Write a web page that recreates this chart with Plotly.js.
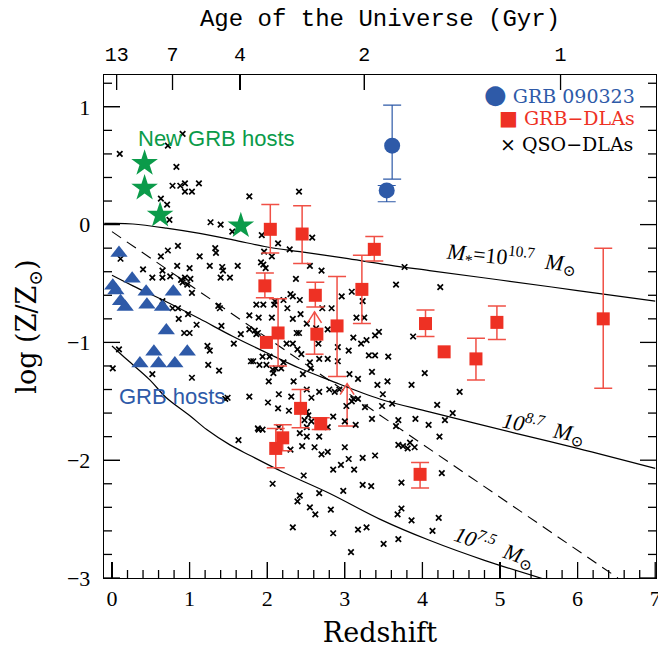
<!DOCTYPE html>
<html><head><meta charset="utf-8">
<script src="https://cdn.plot.ly/plotly-3.0.1.min.js"></script>
<style>html,body{margin:0;padding:0;background:#fff}#plot{width:658px;height:649px}</style>
</head><body><div id="plot"></div>
<script>
// ---------- data ----------
// QSO-DLAs
const qsoZ = [0.10,0.91,0.72,0.83,0.78,0.88,0.94,0.94,1.03,1.12,0.63,0.71,0.74,1.27,1.40,1.55,1.77,2.41,2.14,1.96,2.06,2.29,0.11,
0.63,0.72,0.85,1.13,1.33,1.34,0.40,0.52,0.65,0.65,0.75,0.84,0.89,0.91,0.94,0.97,1.01,1.00,1.03,1.26,1.42,1.43,1.40,1.52,1.62,
0.65,0.78,0.85,0.98,0.86,1.09,0.93,1.00,1.37,1.39,1.41,1.57,1.77,1.89,1.95,1.86,2.06,2.09,2.10,2.26,2.33,2.30,2.37,1.92,1.95,1.98,
2.33,1.66,1.77,1.84,1.86,1.88,1.94,2.03,2.25,2.33,2.38,2.39,1.79,1.82,1.90,1.99,2.07,2.08,2.11,2.18,2.02,2.34,0.09,0.01,0.52,1.03,
1.24,1.23,1.26,1.38,1.46,1.49,1.77,2.01,2.15,2.28,2.14,1.89,1.93,2.58,2.55,2.70,2.42,2.96,2.83,2.71,2.43,2.51,2.78,2.41,2.44,2.55,
2.56,2.67,2.78,2.91,2.66,2.63,2.91,3.05,3.11,3.23,3.15,3.25,3.09,3.21,3.28,3.31,3.39,3.39,3.44,3.56,3.35,3.17,3.06,3.66,3.77,3.88,
4.03,2.21,2.21,2.46,2.51,2.67,2.80,2.87,2.93,3.86,3.55,3.42,3.49,3.61,3.48,3.26,3.11,3.17,3.09,3.02,3.35,3.14,3.00,2.85,2.78,3.69,
3.66,3.91,4.08,3.84,3.69,3.75,3.81,3.90,2.31,2.51,2.53,2.57,2.48,2.51,2.51,2.42,2.57,2.67,1.88,1.94,2.15,1.63,2.30,2.45,2.61,2.70,
2.78,3.00,2.95,3.05,3.12,3.23,3.39,2.85,3.23,3.34,2.98,2.67,2.47,2.07,2.42,2.39,2.55,2.62,2.82,2.33,2.85,3.17,3.28,3.08,3.50,3.69,
3.73,3.68,3.86,3.73,4.23,4.48,4.19,4.39,4.29,4.22,4.25,4.21,4.13];
const qsoLogZ = [0.60,0.77,0.67,0.49,0.33,0.33,0.35,0.28,0.28,0.35,0.22,0.17,0.04,0.02,0.00,-0.06,0.24,0.28,-0.16,-0.23,-0.27,-0.21,-0.29,
-0.27,-0.22,-0.18,-0.27,-0.20,-0.24,-0.38,-0.45,-0.39,-0.45,-0.44,-0.35,-0.47,-0.49,-0.45,-0.51,-0.46,-0.37,-0.58,-0.35,-0.36,-0.39,-0.45,-0.45,-0.35,
-0.65,-0.71,-0.71,-0.76,-0.80,-0.85,-0.92,-0.92,-0.69,-0.71,-0.86,-1.01,-0.77,-0.79,-0.68,-0.68,-0.79,-0.68,-0.65,-0.71,-0.61,-0.59,-0.46,-0.32,-0.34,-0.37,
-0.80,-0.93,-0.89,-0.90,-0.93,-0.92,-1.12,-1.12,-1.01,-1.01,-0.92,-1.06,-1.16,-1.16,-1.19,-1.19,-1.23,-1.26,-1.22,-1.22,-1.33,-1.33,-1.06,-1.22,-1.27,-1.30,
-1.19,-1.03,-1.07,-1.24,-1.48,-1.47,-1.46,-1.51,-1.44,-1.58,-1.56,-1.74,-0.09,-0.11,-0.35,-0.39,-0.64,-0.61,-0.71,-0.71,-0.76,-0.84,-0.89,-0.92,-1.10,-1.17,
-1.22,-1.14,-1.14,-1.16,-1.01,-0.88,-1.04,-1.07,-0.96,-0.65,-0.79,-0.79,-0.57,-1.01,-0.98,-1.11,-1.11,-0.94,-0.91,-1.12,-1.25,-1.31,-1.27,-0.51,-0.36,-0.95,
-1.26,-0.64,-1.17,-1.27,-1.40,-1.42,-1.40,-1.42,-1.40,-1.36,-1.33,-1.36,-1.44,-1.52,-1.54,-1.55,-1.48,-1.48,-1.50,-1.54,-1.65,-1.70,-1.67,-1.63,-1.72,-1.66,
-1.71,-1.65,-1.70,-1.85,-1.87,-1.88,-1.90,-1.89,-1.46,-1.59,-1.62,-1.67,-1.66,-1.72,-1.80,-1.77,-1.47,-1.80,-1.73,-1.74,-1.72,-1.83,-1.91,-1.88,-1.89,-1.95,
-1.93,-1.89,-2.04,-1.99,-2.08,-1.98,-1.96,-2.08,-2.21,-2.22,-2.26,-2.28,-2.13,-2.20,-2.30,-2.35,-2.40,-2.46,-2.42,-2.57,-2.62,-2.59,-2.57,-2.78,-2.71,-2.67,
-2.41,-2.46,-2.51,-2.19,-0.53,-1.42,-1.53,-1.60,-1.66,-1.80,-2.11,-2.49,-2.60];

// GRB-DLAs (NaN = no error bar)
const dlaZ     = [2.04,2.45,3.38,1.97,2.62,2.14,1.99,2.90,3.22,4.04,4.28,4.69,4.96,6.33,2.43,2.69,2.20,2.11,3.97,2.64];
const dlaLogZ  = [-0.04,-0.08,-0.21,-0.52,-0.60,-0.92,-1.00,-0.86,-0.55,-0.84,-1.08,-1.14,-0.83,-0.80,-1.56,-1.69,-1.81,-1.90,-2.12,-0.93];
const dlaErrUp = [0.21,0.24,0.11,0.11,0.11,0.29,NaN,0.42,0.29,0.115,NaN,0.175,0.14,0.60,0.16,0.05,0.11,0.17,0.10,NaN];
const dlaErrDn = [0.20,0.25,0.10,0.10,0.10,0.28,NaN,0.43,0.29,0.11,NaN,0.18,0.145,0.59,0.165,0.05,0.11,0.165,0.115,NaN];
// GRB-DLA lower limits (arrows): from value up to arrow tip
const limZ    = [2.61,3.03];
const limLow  = [-1.10,-1.71];
const limHigh = [-0.74,-1.35];

// GRB 090323
const g090Z = [3.61,3.54];
const g090LogZ = [0.67,0.29];
const g090ErrUp = [0.345,0.042];
const g090ErrDn = [0.284,0.096];

// GRB hosts (triangles)
const hostZ = [0.09,0.26,0.01,0.05,0.44,0.79,0.11,0.17,0.45,0.65,0.70,0.54,0.97,0.36,0.60,0.81];
const hostLogZ = [-0.24,-0.46,-0.52,-0.56,-0.57,-0.57,-0.65,-0.70,-0.68,-0.70,-0.90,-1.08,-1.08,-1.18,-1.18,-1.18];

// New GRB hosts (stars)
const newHostZ = [0.42,0.42,0.62,1.66];
const newHostLogZ = [0.52,0.31,0.08,-0.01];

// Mass-metallicity curves
const mHighZ = [-0.1,0,0.27,0.7,1.13,1.56,2.0,2.42,3.0,3.48,4.09,5.0,6.0,7.0];
const mHighY = [0.01,0.01,0.005,-0.03,-0.075,-0.13,-0.19,-0.23,-0.285,-0.335,-0.39,-0.47,-0.56,-0.65];
const mMidZ = [0,0.27,0.7,1.13,1.56,2.0,2.42,2.8,3.45,4.09,5.19,6.0,7.0];
const mMidY = [-0.43,-0.52,-0.655,-0.80,-0.95,-1.09,-1.22,-1.32,-1.48,-1.59,-1.77,-1.90,-2.07];
const mLowZ = [0,0.2,0.49,0.7,1.0,1.22,1.52,1.78,2.2,2.8,3.45,4.09,4.8,5.62];
const mLowY = [-1.03,-1.15,-1.32,-1.47,-1.62,-1.74,-1.87,-1.96,-2.10,-2.28,-2.50,-2.68,-2.85,-3.02];
// QSO-DLA linear fit (dashed)
const fitZ = [0,6.52];
const fitY = [-0.06,-3.0];

// top axis: age of the Universe
const ageLabels = ['13','7','4','2','1'];
const ageZ = [0.06,0.78,1.65,3.25,5.78];

// ---------- geometry / style ----------
const RED='#ee3124', REDERR='rgb(240,80,70)', BLUE='#2e5aa8', GREEN='#0b9b4a';
const SERIF='Liberation Serif, DejaVu Serif, serif';
const XR=[-0.103,7.01], YR=[-3,1.27];
const W=658, H=649, M={l:104,r:2,t:75,b:71};
const xPerPx=(XR[1]-XR[0])/(W-M.l-M.r), yPerPx=(YR[1]-YR[0])/(H-M.t-M.b);

// tick marks drawn as one line trace (inside ticks on all sides)
const tX=[], tY=[];
function seg(x0,y0,x1,y1){tX.push(x0,x1,null);tY.push(y0,y1,null);}
for (let k=0;k<=35;k++){const v=+(k*0.2).toFixed(1); const L=(k%5===0?16:8)*yPerPx; seg(v,YR[0],v,YR[0]+L);}
for (let k=-15;k<=6;k++){const v=+(k*0.2).toFixed(1); const L=(k%5===0?16:8)*xPerPx; seg(XR[0],v,XR[0]+L,v); seg(XR[1],v,XR[1]-L,v);}
ageZ.forEach(v=>seg(v,YR[1],v,YR[1]-15*yPerPx));

const traces = [
 {x:tX,y:tY,mode:'lines',line:{color:'#000',width:1.3},cliponaxis:false,hoverinfo:'skip'},
 {x:mHighZ,y:mHighY,mode:'lines',line:{color:'#000',width:1.2,shape:'spline'},hoverinfo:'skip'},
 {x:mMidZ,y:mMidY,mode:'lines',line:{color:'#000',width:1.2,shape:'spline'},hoverinfo:'skip'},
 {x:mLowZ,y:mLowY,mode:'lines',line:{color:'#000',width:1.2,shape:'spline'},hoverinfo:'skip'},
 {x:fitZ,y:fitY,mode:'lines',line:{color:'#000',width:1.1,dash:'11px,7px'},hoverinfo:'skip'},
 {x:qsoZ,y:qsoLogZ,mode:'markers',marker:{symbol:'x-thin',size:5.5,color:'#000',line:{color:'#000',width:1.7}}},
 {x:dlaZ,y:dlaLogZ,mode:'markers',marker:{symbol:'square',size:13,color:RED},
  error_y:{type:'data',symmetric:false,array:dlaErrUp,arrayminus:dlaErrDn,color:REDERR,thickness:1.5,width:9}},
 {x:g090Z,y:g090LogZ,mode:'markers',marker:{symbol:'circle',size:16,color:BLUE},
  error_y:{type:'data',symmetric:false,array:g090ErrUp,arrayminus:g090ErrDn,color:BLUE,thickness:1.2,width:9}},
 {x:hostZ,y:hostLogZ,mode:'markers',marker:{symbol:'triangle-up',size:15,color:BLUE}},
 {x:newHostZ,y:newHostLogZ,mode:'markers',marker:{symbol:'star',size:20,color:GREEN}},
 {x:[null],y:[null],xaxis:'x2',yaxis:'y',mode:'markers'}
];

const shapes = [];
limZ.forEach((z,i)=>{
  shapes.push({type:'line',xref:'x',yref:'y',xsizemode:'pixel',xanchor:z,x0:0,x1:0,y0:limLow[i],y1:limHigh[i],line:{color:REDERR,width:1.5},layer:'below'});
  shapes.push({type:'line',xref:'x',yref:'y',xsizemode:'pixel',xanchor:z,x0:-9,x1:9,y0:limLow[i],y1:limLow[i],line:{color:REDERR,width:1.5},layer:'below'});
  shapes.push({type:'path',xref:'x',yref:'y',xsizemode:'pixel',ysizemode:'pixel',xanchor:z,yanchor:limHigh[i],path:'M-7,-11L0,0L7,-11',line:{color:REDERR,width:1.5}});
});

const legendX = 0.966;
const annotations = [
 {xref:'paper',yref:'paper',x:legendX,y:0.963,xanchor:'right',yanchor:'middle',showarrow:false,align:'right',
  text:'<span style="font-size:26px">●</span> GRB 090323',font:{family:'DejaVu Serif',size:19,color:BLUE}},
 {xref:'paper',yref:'paper',x:legendX,y:0.9145,xanchor:'right',yanchor:'middle',showarrow:false,align:'right',
  text:'<span style="font-size:20px">■</span> GRB−DLAs',font:{family:'DejaVu Serif',size:19,color:RED}},
 {xref:'paper',yref:'paper',x:legendX-0.004,y:0.8632,xanchor:'right',yanchor:'middle',showarrow:false,align:'right',
  text:'× QSO−DLAs',font:{family:'DejaVu Serif',size:19,color:'#000'}},
 {x:0.31,y:0.733,xanchor:'left',yanchor:'middle',showarrow:false,text:'New GRB hosts',font:{family:'Liberation Sans, Arial',size:22,color:GREEN}},
 {x:0.06,y:-1.461,xanchor:'left',yanchor:'middle',showarrow:false,text:'GRB hosts',font:{family:'Liberation Sans, Arial',size:22,color:BLUE}},
 {x:5.15,y:-0.28,showarrow:false,textangle:6,text:'<i>M</i><sub>*</sub>=10<sup>10.7</sup>  <i>M</i><sub>⊙</sub>',font:{family:SERIF,size:22,color:'#000'}},
 {x:5.56,y:-1.72,showarrow:false,textangle:11,text:'<i>10<sup>8.7</sup></i>  <i>M</i><sub>⊙</sub>',font:{family:SERIF,size:22,color:'#000'}},
 {x:4.93,y:-2.73,showarrow:false,textangle:19,text:'<i>10<sup>7.5</sup></i>  <i>M</i><sub>⊙</sub>',font:{family:SERIF,size:22,color:'#000'}}
];

const layout = {
 width:W,height:H,margin:M,
 paper_bgcolor:'#fff',plot_bgcolor:'#fff',showlegend:false,
 xaxis:{range:XR,showgrid:false,zeroline:false,showline:true,mirror:true,linecolor:'#000',linewidth:1.3,
   ticks:'inside',ticklen:16,tickwidth:1.3,tickcolor:'#000',dtick:1,tick0:0,ticklabeloverflow:'allow',
   tickfont:{family:SERIF,size:22,color:'#000'},
   title:{text:'Redshift',font:{family:'DejaVu Serif',size:27,color:'#000'},standoff:13}},
 xaxis2:{overlaying:'x',side:'top',anchor:'y',range:XR,showgrid:false,zeroline:false,showline:false,
   tickmode:'array',tickvals:ageZ,ticktext:ageLabels,ticks:'inside',ticklen:15,tickwidth:1.3,tickcolor:'#000',
   tickfont:{family:'Liberation Mono, DejaVu Sans Mono, monospace',size:20,color:'#000'},ticklabelstandoff:9,
   title:{text:'Age of the Universe (Gyr)',font:{family:'Liberation Mono, DejaVu Sans Mono, monospace',size:24,color:'#000'},standoff:10}},
 yaxis:{range:YR,showgrid:false,zeroline:false,showline:true,mirror:true,linecolor:'#000',linewidth:1.3,
   ticks:'inside',ticklen:16,tickwidth:1.3,tickcolor:'#000',dtick:1,tick0:0,
   tickfont:{family:SERIF,size:22,color:'#000'},ticklabelstandoff:8,
   title:{text:'log (Z/Z<sub>⊙</sub>)',font:{family:'DejaVu Serif',size:27,color:'#000'},standoff:22}},
 shapes:shapes,annotations:annotations
};
Plotly.newPlot('plot',traces,layout,{displayModeBar:false,staticPlot:true});
</script></body></html>
